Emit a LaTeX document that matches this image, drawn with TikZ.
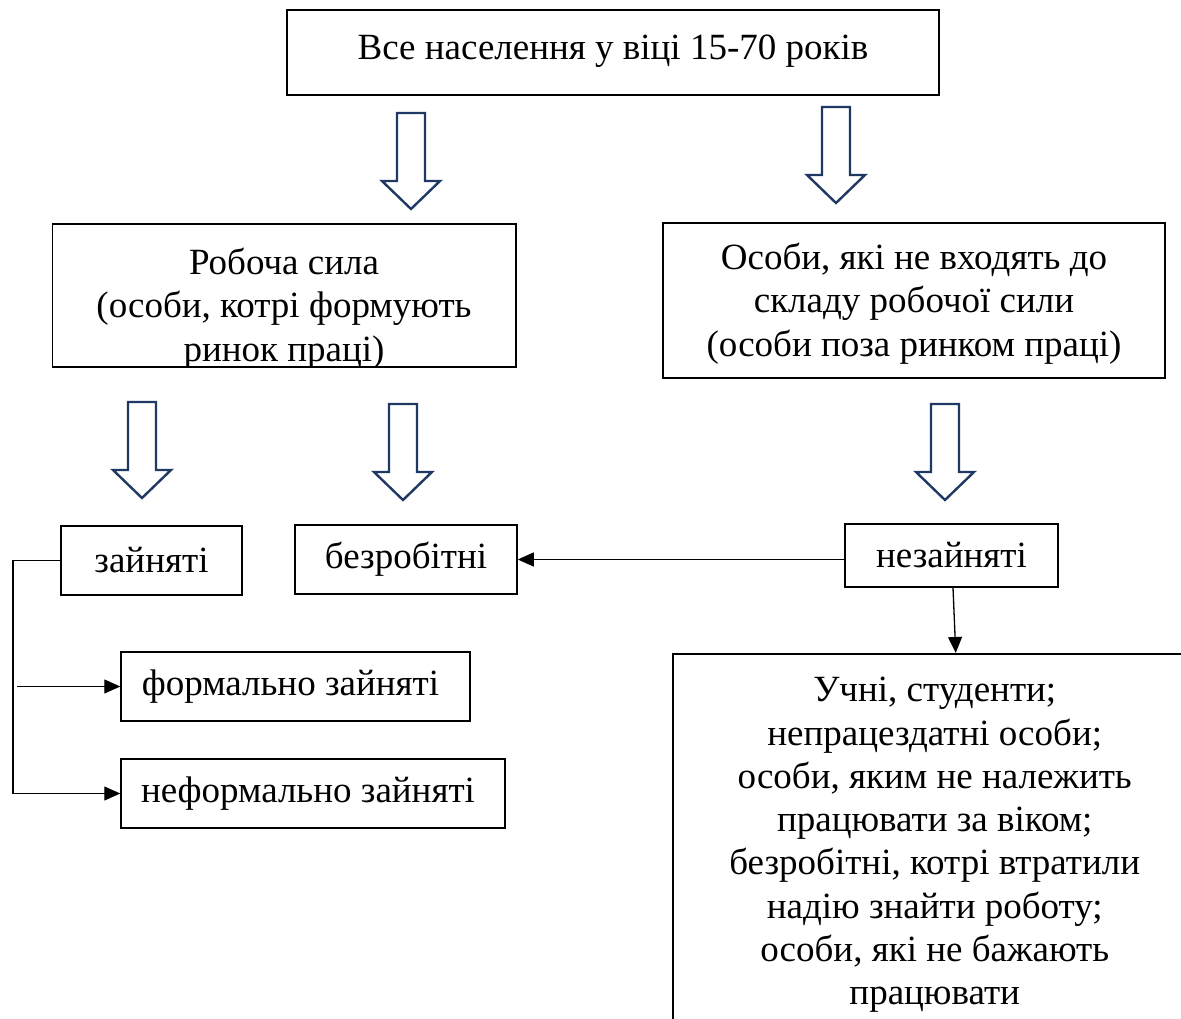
\documentclass[tikz,border=0pt]{standalone}
\usepackage{fontspec}
\setmainfont{Liberation Serif}
\usetikzlibrary{arrows.meta}
\definecolor{navy}{HTML}{1F3864}
\begin{document}
\begin{tikzpicture}[x=1pt,y=-1pt,
  box/.style={draw=black,line width=1.5pt,inner sep=0pt,fill=none},
  txt/.style={inner sep=0pt,align=center,font=\fontsize{37}{43.3}\selectfont},
  conn/.style={draw=black,line width=1.3pt,-{Triangle[length=16pt,width=14pt]}},
  harrow/.pic={\draw[draw=navy,fill=white,line width=2.4pt,line join=miter]
     (-14,0) -- (-14,68) -- (-29,68) -- (0,96) -- (29,68) -- (14,68) -- (14,0) -- cycle;}
]
\clip (0,0) rectangle (1181,1019);
\fill[white] (0,0) rectangle (1181,1019);

% top box
\node[box,minimum width=652,minimum height=85] (top) at (613,52.5) {};
\node[txt] (toptxt) at ([yshift=1]top.center) {Все населення у віці 15-70 років};

% hollow arrows
\pic at (411,113) {harrow};
\pic at (836,107) {harrow};
\pic at (142,402) {harrow};
\pic at (403,404) {harrow};
\pic at (945,404) {harrow};

% left box
\node[box,minimum width=463.5,minimum height=143] (rs) at (284,295.5) {};
\begin{scope}
\clip ([yshift=1]rs.south west) rectangle (rs.north east);
\node[txt] (rstxt) at ([yshift=-13]rs.center) {Робоча сила\\(особи, котрі формують\\ринок праці)};
\end{scope}

% right box
\node[box,minimum width=502,minimum height=155] (nrs) at (914,300.5) {};
\node[txt] (nrstxt) at ([yshift=-3]nrs.center) {Особи, які не входять до\\складу робочої сили\\(особи поза ринком праці)};

% small boxes
\node[box,txt,minimum width=181,minimum height=69] (zan) at (151.5,560.5) {зайняті};
\node[box,txt,minimum width=222,minimum height=69] (bez) at (406,559.5) {безробітні};
\node[box,txt,minimum width=213,minimum height=63] (nez) at (951.5,555.5) {незайняті};
\node[box,minimum width=349,minimum height=69] (form) at (295.5,686.5) {};
\node[txt] (formtxt) at ([xshift=-5]form.center) {формально зайняті};
\node[box,minimum width=384,minimum height=69] (nform) at (313,793.5) {};
\node[txt] (nformtxt) at ([xshift=-5]nform.center) {неформально зайняті};

% bottom box
\node[box,anchor=north west,minimum width=524,minimum height=420] (bb) at (672,653) {};
\node[txt,anchor=north] (bbtxt) at ([yshift=-24]bb.north) {Учні, студенти;\\непрацездатні особи;\\особи, яким не належить\\працювати за віком;\\безробітні, котрі втратили\\надію знайти роботу;\\особи, які не бажають\\працювати};

% connectors
\coordinate (elbow) at (13,560.5);
\coordinate (fstart) at (17,686.5);
\draw[conn] (zan.west) -- (elbow) |- (nform.west);
\draw[conn] (fstart) -- (form.west);
\draw[conn] (bez.east -| nez.west) -- (bez.east);
\draw[conn] ([xshift=1.5]nez.south) -- ([xshift=21]bb.north);
\end{tikzpicture}
\end{document}
